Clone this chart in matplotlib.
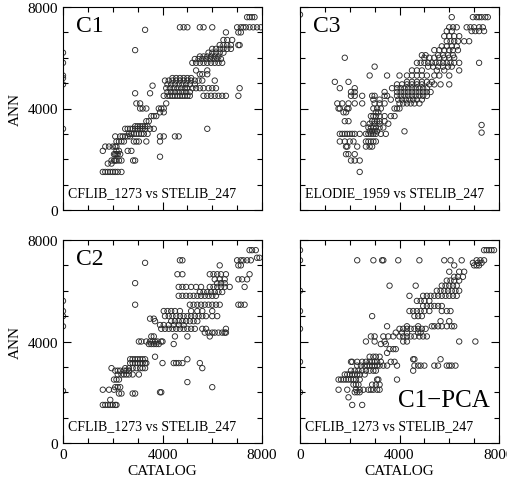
import matplotlib
matplotlib.use("Agg")
import matplotlib.pyplot as plt
from matplotlib.ticker import MultipleLocator

plt.rcParams['font.family'] = ['Liberation Serif', 'DejaVu Serif']

# rows of (ANN value, [CATALOG values])
c1_rows = [
    (1500, [1600, 1700, 1800, 1900, 2000, 2100, 2200, 2350]),
    (1830, [1800, 1950]),
    (1950, [1950, 2050, 2100, 2150, 2250, 2350, 2820, 2900]),
    (2100, [3900]),
    (2200, [2050, 2100, 2150, 2200, 2300]),
    (2330, [1600, 2150, 2250, 2600, 2750]),
    (2500, [1700, 1850, 2000, 2100, 2150]),
    (2700, [2150, 2250, 2350, 2450, 2850, 2950, 3050, 3350, 3900]),
    (2900, [2100, 2300, 2400, 2500, 2600, 2700, 3900, 4050, 4500, 4650]),
    (3000, [2650, 2750, 2850, 2950, 3050, 3150, 3250, 3400]),
    (3200, [2500, 2600, 2700, 2800, 2900, 3000, 3100, 3200, 3300, 3500, 3650, 5800]),
    (3300, [2900, 3000, 3100, 3200, 3300, 3400]),
    (3500, [3350, 3450]),
    (3700, [3550, 3650, 3750]),
    (3850, [3900, 4050]),
    (4000, [3100, 3200, 3350, 3850, 3950, 4050]),
    (4200, [2950, 3100, 4150]),
    (4600, [2900, 3500]),
    (4900, [3600]),
    (6300, [2900]),
    (7100, [3300]),
    (4500, [4050, 4200, 4300, 4400, 4500, 4600, 4700, 4800, 4900, 5000, 5100,
            5650, 5800, 5950, 6100, 6250, 6400, 6550, 7050]),
    (4650, [4200, 4350, 4500, 4650, 4800, 4950, 5100]),
    (4800, [4150, 4300, 4450, 4600, 4750, 4900, 5000, 5200, 5350, 5500, 5650,
            5850, 6000, 6150, 7100]),
    (4950, [4200, 4350, 4500, 4650, 4800, 4950, 5100, 5300]),
    (5100, [4100, 4250, 4400, 4550, 4700, 4850, 5000, 5150, 5300, 5450, 5600, 6100]),
    (5200, [4400, 4550, 4700, 4850, 5000, 5150]),
    (5350, [5500, 5600, 5800]),
    (5500, [5350, 5800]),
    (5800, [5200, 5350, 5500, 5650, 5800, 5950, 6100, 6250, 6400]),
    (5950, [5300, 5450, 5600, 5750, 5900, 6050, 6200, 6350]),
    (6050, [5500, 5650, 5800, 5950, 6100, 6250]),
    (6200, [5850, 6000, 6150, 6300, 6450]),
    (6350, [6000, 6150, 6300, 6450, 6600, 6750]),
    (6500, [6300, 6450, 6600, 6750, 7050, 7100]),
    (6700, [6450, 6600, 6800]),
    (7000, [6550, 7050, 7150]),
    (7200, [4700, 4850, 5000, 5500, 5650, 6000, 7000, 7150, 7250, 7350, 7500,
            7650, 7800, 7950]),
    (7600, [7400, 7500, 7600, 7700]),
]
c1_edge = [6200, 5800, 5300, 5200, 4950, 3200]

c3_rows = [
    (1500, [2400]),
    (1950, [2050, 2200, 2400]),
    (2200, [1850, 1950, 2200]),
    (2500, [1850, 1900, 2300, 2650, 2800, 2900]),
    (2700, [1600, 1800, 2000, 2150, 2650, 2750, 2850, 2950, 3050]),
    (3000, [1600, 1700, 1800, 1900, 2000, 2100, 2200, 2400, 2650, 2750, 2850,
            2950, 3050, 3250, 3450]),
    (3100, [2800, 2900, 3000, 3100, 4200]),
    (3250, [2750, 2850, 2950, 3050, 3200, 3350]),
    (3400, [2550, 2800, 3000, 3200, 3550]),
    (3500, [1800, 1950, 2900, 3000, 3100, 3200, 3400]),
    (3700, [2850, 2950, 3050, 3200, 3400, 3650, 3800]),
    (3850, [1750, 1850, 3050, 3150]),
    (4000, [1550, 1600, 1900, 1950, 2950, 3100, 3250, 3800, 3900, 4000]),
    (4200, [1500, 1700, 1950, 2200, 2500, 3000, 3200, 3400, 4000, 4150, 4300,
            4450, 4600, 4800]),
    (4350, [2950, 3200, 3650, 3950, 4100, 4250, 4400, 4550, 4700, 4900]),
    (4500, [2050, 2200, 2500, 2900, 3000, 3400, 3500, 3900, 4050, 4200, 4350,
            4500, 4650, 4800, 4950, 5100]),
    (4650, [2050, 2200, 3400, 3900, 4050, 4200, 4350, 4500, 4650, 4800, 4950,
            5100, 5250]),
    (4800, [1600, 2200, 3700, 3900, 4050, 4200, 4350, 4500, 4650, 4800, 4950, 5100]),
    (4950, [3900, 4100, 4300, 4500, 4700, 4900, 5200, 5400, 5650, 6000]),
    (5050, [1400, 1950, 4300, 4500, 4700, 4900, 5100, 5300]),
    (5300, [2800, 3500, 4000, 4300, 4500, 4700, 4900, 5100, 5400, 5600, 6000]),
    (5500, [4500, 4700, 4900, 5500, 5800, 6400]),
    (5650, [3000, 5150, 5350, 5550, 5750, 5950, 6100]),
    (5800, [4700, 4850, 5000, 5150, 5300, 5450, 5600, 5750, 5900, 6050, 6200,
            6400, 7200]),
    (6000, [1800, 5000, 5200, 5400, 5600, 5800, 6000, 6200]),
    (6100, [4900, 5050, 5550, 5750, 5950, 6150]),
    (6300, [5400, 5600, 5800, 6000, 6150, 6350]),
    (6450, [5700, 5900, 6100, 6300]),
    (6650, [5900, 6050, 6200, 6350, 6600, 6800]),
    (6850, [5800, 6000, 6200, 6400]),
    (7050, [5900, 6100, 6900, 7050, 7200, 7400]),
    (7200, [6000, 6150, 6300, 6700, 6850, 7000, 7200, 7350]),
    (7600, [6100, 6950, 7100, 7200, 7300, 7450, 7550]),
    (3350, [7300]),
    (3050, [7300]),
]
c3_edge = [7700]

c2_rows = [
    (1500, [1600, 1700, 1800, 1900, 2000, 2100, 2150]),
    (1700, [1900]),
    (1950, [2250, 2350, 2800, 2900]),
    (2000, [3900, 3950]),
    (2100, [1600, 1850, 2050]),
    (2200, [2100, 2200, 2300, 6000]),
    (2400, [5000]),
    (2500, [2050, 2150, 2250]),
    (2700, [2200, 2350, 2450, 2550, 2650, 2800, 3050]),
    (2850, [2100, 2200, 2300, 2450, 2550, 2650]),
    (2950, [1950, 2500, 2650, 2800, 2950, 3100, 3200, 3300, 5600]),
    (3150, [2700, 2800, 2900, 3000, 3100, 3200, 3300, 3350, 4000, 4450, 4550,
            4650, 4800, 5500]),
    (3300, [2700, 2800, 2900, 3000, 3100, 3200, 3300, 5000]),
    (3400, [3700]),
    (3900, [3450, 3550, 3650, 3750, 3850, 4450]),
    (4000, [3050, 3150, 3350, 3500, 3600, 3700, 3800, 3950, 4000]),
    (4200, [3550, 3650, 4500, 5000, 5900]),
    (4350, [5700, 5850, 6000, 6100, 6250, 6400, 6500, 6550]),
    (4500, [3950, 4100, 4250, 4400, 4550, 4700, 4850, 5000, 5150, 5300, 5600,
            5750, 6550]),
    (4650, [3900, 4050, 4250, 4450, 4650, 4850]),
    (4800, [3700, 4350, 4500, 4650, 4800, 4950, 5100, 5250, 5400]),
    (4900, [3500, 3650]),
    (5000, [4100, 4250, 4400, 4550, 4700, 4850, 5000, 5150, 5300, 5450, 5600,
            5750, 6000, 6200]),
    (5200, [4050, 4200, 4350, 4500, 4700, 5150, 5400, 5600, 6000]),
    (5450, [2900, 5100, 5250, 5400, 5550, 5700, 5850, 6000, 6150, 6300, 7050,
            7150, 7300]),
    (5800, [4650, 4800, 4950, 5100, 5250, 5400, 5550, 5700, 5850, 6000, 6150]),
    (5950, [5500, 5650, 5800, 5950, 6100, 6250, 6400]),
    (6150, [4650, 4800, 4950, 5150, 5350, 5550, 5900, 6050, 6200, 6350, 6500,
            6700, 7300]),
    (6300, [2900, 6200, 6350, 6500]),
    (6450, [6100, 6300, 6500, 7050, 7200, 7400]),
    (6650, [4600, 4800, 5900, 6050, 6200, 6350, 6550, 7500]),
    (7000, [6300, 7050, 7150]),
    (7100, [3300]),
    (7200, [4700, 4800, 7000, 7150, 7250, 7400, 7550]),
    (7300, [7800, 7900]),
    (7600, [7500, 7600, 7750]),
]
c2_edge = [5600, 5200, 5000, 4600, 2050]

pca_rows = [
    (1500, [2100, 2500]),
    (1800, [1950]),
    (2000, [2200, 2300, 2400]),
    (2100, [1550, 1900, 2250, 2400, 2550, 2750, 2850, 2950, 3100, 3200]),
    (2300, [2150, 2250, 2350, 2900, 3050, 3200]),
    (2500, [1550, 1650, 1750, 1850, 1950, 2050, 2150, 2250, 2400, 3100, 3150, 3900]),
    (2700, [1800, 1900, 2000, 2100, 2200, 2300, 2400, 2600]),
    (2850, [2050, 2200, 2350, 2500, 2650, 2800, 2950, 3050, 4550]),
    (3050, [2300, 2450, 2600, 2700, 2800, 2900, 3000, 3100, 3200, 3350, 3500,
            3900, 4600, 4750, 4850, 5000, 5400, 5550, 5900, 6000, 6100, 6250]),
    (3200, [2050, 2100, 2300, 2500, 2650, 2800, 2900, 3000, 3100, 3250, 3650, 3800]),
    (3300, [4550, 4600, 5650]),
    (3400, [2800, 2950, 3050, 3200]),
    (3550, [3500]),
    (3700, [3600, 3750, 3850]),
    (3900, [3250, 3450]),
    (4000, [2650, 3000, 3400, 4150, 4300, 6400, 7050]),
    (4200, [2850, 3000, 3350, 3550, 3750, 4000, 4150, 4300, 4450, 4600, 4800,
            4950, 5100]),
    (4350, [3850, 4100, 4300, 4750, 4850]),
    (4500, [4000, 4150, 4300, 4450, 4600, 4750, 4900, 5050]),
    (4600, [3500, 4300, 4750, 5300, 5400, 5550, 5700, 5900, 6100, 6200]),
    (4800, [5650, 6000]),
    (5000, [2900, 4600, 4750, 4900]),
    (5200, [4400, 4550, 4700, 4850, 5000, 5200, 5700, 5900, 6050]),
    (5400, [4950, 5100, 5250, 5400, 5550, 5700]),
    (5600, [4700, 4850, 5000, 5200]),
    (5800, [4400, 4950, 5100, 5250, 5400, 5550, 5700, 5850, 6000, 6150, 6300]),
    (6000, [5500, 5650, 5800, 5950, 6100, 6250, 6400]),
    (6200, [3600, 4650, 5700, 5850, 6000, 6150, 6300]),
    (6400, [5900, 6050, 6200, 6400]),
    (6550, [6200, 6350, 6550]),
    (6750, [6000, 6400, 6600]),
    (7000, [6200, 7000, 7100, 7200]),
    (7100, [6950, 7150, 7300]),
    (7200, [2300, 2950, 3300, 3350, 3950, 4800, 5800, 6050, 6500, 7100, 7250, 7400]),
    (7600, [7400, 7500, 7600, 7700, 7800]),
]
pca_edge = [7600, 7200, 6000, 5200, 4500, 3200, 2000]

names = ["C1", "C3", "C2", "C1\u2212PCA"]
captions = ["CFLIB_1273 vs STELIB_247", "ELODIE_1959 vs STELIB_247",
            "CFLIB_1273 vs STELIB_247", "CFLIB_1273 vs STELIB_247"]
all_rows = [c1_rows, c3_rows, c2_rows, pca_rows]
all_edges = [c1_edge, c3_edge, c2_edge, pca_edge]

W, H = 507, 481
fig = plt.figure(figsize=(W / 100, H / 100), dpi=100)

# panel boxes in pixels: left, top
boxes = [(63, 8), (300, 8), (63, 241), (300, 241)]
pw, ph = 199, 203

for i in range(4):
    left, top = boxes[i]
    ax = fig.add_axes([left / W, 1 - (top + ph) / H, pw / W, ph / H])

    xs, ys = [], []
    for yv, xl in all_rows[i]:
        for xv in xl:
            xs.append(xv)
            ys.append(yv)
    for yv in all_edges[i]:
        xs.append(0)
        ys.append(yv)

    ax.scatter(xs, ys, s=15, facecolors='none', edgecolors='#2a2a2a',
               linewidths=0.65, clip_on=True)

    ax.set_xlim(0, 8000)
    ax.set_ylim(0, 8000)
    ax.xaxis.set_major_locator(MultipleLocator(4000))
    ax.yaxis.set_major_locator(MultipleLocator(4000))
    ax.xaxis.set_minor_locator(MultipleLocator(1000))
    ax.yaxis.set_minor_locator(MultipleLocator(1000))
    ax.tick_params(which='both', direction='in', top=True, right=True,
                   labelsize=11, width=0.8)
    ax.tick_params(which='major', length=6)
    ax.tick_params(which='minor', length=3.5)
    for sp in ax.spines.values():
        sp.set_linewidth(0.8)

    if i in (0, 2):
        ax.set_ylabel("ANN", fontsize=11)
    else:
        ax.tick_params(labelleft=False)
    if i in (2, 3):
        ax.set_xlabel("CATALOG", fontsize=11, labelpad=2)
    else:
        ax.tick_params(labelbottom=False)

    if i == 3:
        ax.text(0.955, 0.18, names[i], transform=ax.transAxes, fontsize=18,
                ha='right', va='baseline')
    else:
        ax.text(0.065, 0.96, names[i], transform=ax.transAxes, fontsize=17,
                ha='left', va='top')
    ax.text(0.025, 0.055, captions[i], transform=ax.transAxes, fontsize=10,
            ha='left', va='bottom')

fig.savefig("out.png", dpi=100)
